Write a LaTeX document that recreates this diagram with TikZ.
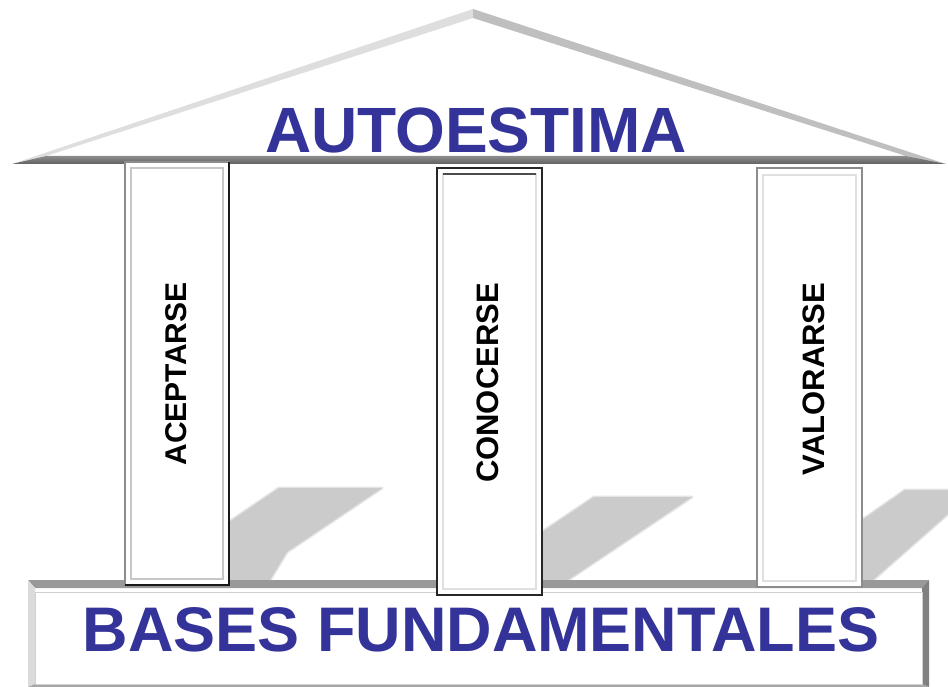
\documentclass[tikz,border=0pt]{standalone}
\usepackage{fontspec}
\setmainfont{Liberation Sans}
\definecolor{tblue}{HTML}{333399}
\definecolor{shadowgray}{HTML}{CBCBCB}
\begin{document}
\begin{tikzpicture}[x=1pt,y=-1pt,
  bigtitle/.style={text=tblue,inner sep=0pt,anchor=base,font=\bfseries\fontsize{64}{64}\selectfont},
  coltext/.style={rotate=90,inner sep=0pt,text=black,font=\bfseries\fontsize{#1}{#1}\selectfont},
  innerA/.style={draw=black!22,line width=1.6pt}]
\useasboundingbox (0,0) rectangle (948,687);
% ---- shadows (soft edge then core)
\begin{scope}[shadowgray]
\draw[line width=3pt,opacity=0.5,line join=round] (229,522) -- (279,488) -- (382,488) -- (287,552) -- (270,580) -- (229,580) -- cycle;
\fill (229,522) -- (279,488) -- (382,488) -- (287,552) -- (270,580) -- (229,580) -- cycle;
\draw[line width=3pt,opacity=0.5,line join=round] (542,532) -- (594,497) -- (692,497) -- (568,580) -- (542,580) -- cycle;
\fill (542,532) -- (594,497) -- (692,497) -- (568,580) -- (542,580) -- cycle;
\draw[line width=3pt,opacity=0.5,line join=round] (862,520) -- (905,490) -- (948,490) -- (948,514) -- (873,580) -- (862,580) -- cycle;
\fill (862,520) -- (905,490) -- (948,490) -- (948,514) -- (873,580) -- (862,580) -- cycle;
\end{scope}
% ---- roof
\fill[white] (12,164) -- (473,9) -- (946,164) -- cycle;
\fill[black!13] (12,164) -- (473,9) -- (473,18) -- (46,156) -- cycle;
\fill[black!25] (473,9) -- (946,164) -- (906,156) -- (473,18) -- cycle;
\shade[top color=black!45,bottom color=black!62] (12,164) -- (46,156) -- (906,156) -- (946,164) -- cycle;
\node[bigtitle] (title) at (476,153) {AUTOESTIMA};
% ---- base
\fill[white] (28,580) rectangle (929,687);
\fill[black!40] (28,580) -- (929,580) -- (922,588) -- (35,588) -- cycle;
\fill[black!14] (28,580) -- (35,588) -- (35,684) -- (28,687) -- cycle;
\fill[black!50] (929,580) -- (922,588) -- (922,684) -- (929,687) -- cycle;
\fill[black!35] (28,687) -- (929,687) -- (922,684) -- (35,684) -- cycle;
\draw[black!18,line width=0.8pt] (35,592) rectangle (922,684);
\node[bigtitle,font=\bfseries\fontsize{63}{63}\selectfont] (basetitle) at (481,651) {BASES FUNDAMENTALES};
% ---- column 1
\draw[fill=white,draw=black!45,line width=1.1pt] (125,162) rectangle (229,585);
\draw[black!90,line width=1.1pt] (229,162) -- (229,585) -- (125,585);
\draw[innerA] (131,168) rectangle (223,579);
\node[coltext=30] (c1) at (176.5,374) {ACEPTARSE};
% ---- column 2
\draw[fill=white,draw=black!85,line width=1.3pt] (437,168) rectangle (542,595);
\draw[black!12,line width=1.4pt] (443,174) rectangle (536,589);
\draw[black!70,line width=1.6pt] (443,174) -- (536,174);
\node[coltext=31] (c2) at (488,383) {CONOCERSE};
% ---- column 3
\draw[fill=white,draw=black!45,line width=1.1pt] (757,168) rectangle (862,587);
\draw[black!12,line width=1.4pt] (763,175) rectangle (856,581);
\node[coltext=31] (c3) at (814,379) {VALORARSE};
\end{tikzpicture}
\end{document}
